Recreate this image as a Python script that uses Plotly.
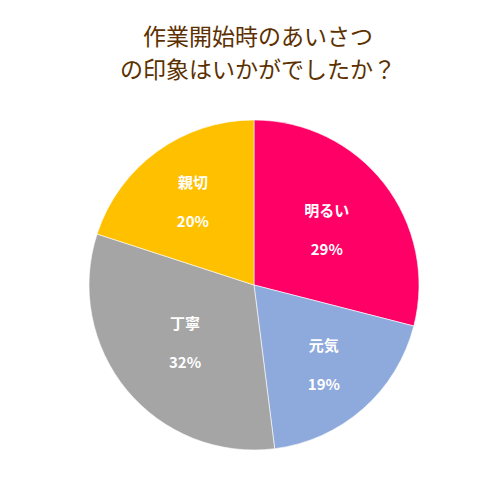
import plotly.graph_objects as go

labels = ["明るい", "元気", "丁寧", "親切"]
values = [29, 19, 32, 20]
colors = ["#FF0066", "#8EA9DB", "#A5A5A5", "#FFC000"]
title_lines = ["作業開始時のあいさつ", "の印象はいかがでしたか？"]

fig = go.Figure(go.Pie(
    labels=labels, values=values, sort=False, direction="clockwise", rotation=0,
    marker=dict(colors=colors, line=dict(color="rgba(255,255,255,0.6)", width=1)),
    texttemplate="<b>%{label}</b><br><br><b>%{percent:.0%}</b>", textinfo="text", textposition="inside",
    insidetextorientation="horizontal",
    textfont=dict(color="white", size=15, family="Noto Sans CJK JP"),
    domain=dict(x=[0.162, 0.822], y=[0.116, 0.776]),
    showlegend=False, hoverinfo="skip"))
for i, t in enumerate(title_lines):
    fig.add_annotation(text=t, x=0.5, xref="paper", yref="paper", y=1 - (27 + 33 * i) / 500,
                       yanchor="middle", showarrow=False,
                       font=dict(size=23, color="#5C3000", family="Noto Sans CJK JP"))
fig.update_layout(
    width=500, height=500, margin=dict(l=0, r=0, t=0, b=0),
    paper_bgcolor="white", plot_bgcolor="white")
fig.write_html("out.html")
